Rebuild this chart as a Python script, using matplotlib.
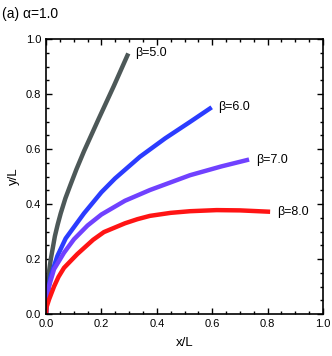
import numpy as np
import matplotlib
matplotlib.use('Agg')
from matplotlib import pyplot as plt
from matplotlib.ticker import MultipleLocator, FormatStrFormatter

plt.rcParams['font.family'] = ['Liberation Sans', 'DejaVu Sans']

# curves (x/L, y/L)
x_b5 = [0.0, 0.002, 0.007, 0.017, 0.032, 0.042, 0.053, 0.070, 0.089, 0.110, 0.137, 0.190, 0.245, 0.297]
y_b5 = [0.0, 0.060, 0.125, 0.198, 0.283, 0.325, 0.366, 0.421, 0.472, 0.527, 0.592, 0.710, 0.830, 0.948]

x_b6 = [0.0, 0.003, 0.017, 0.041, 0.071, 0.137, 0.200, 0.249, 0.339, 0.430, 0.520, 0.598]
y_b6 = [0.0, 0.060, 0.138, 0.211, 0.275, 0.366, 0.443, 0.493, 0.572, 0.639, 0.699, 0.752]

x_b7 = [0.0, 0.003, 0.011, 0.029, 0.065, 0.101, 0.150, 0.200, 0.285, 0.375, 0.520, 0.633, 0.733]
y_b7 = [0.0, 0.050, 0.102, 0.163, 0.223, 0.272, 0.322, 0.362, 0.412, 0.451, 0.505, 0.537, 0.562]

x_b8 = [0.0, 0.002, 0.011, 0.029, 0.045, 0.065, 0.113, 0.170, 0.209, 0.285, 0.330, 0.375, 0.450, 0.520, 0.616, 0.700, 0.809]
y_b8 = [0.0, 0.025, 0.053, 0.100, 0.135, 0.168, 0.218, 0.270, 0.298, 0.330, 0.345, 0.357, 0.368, 0.374, 0.378, 0.377, 0.372]

labels = ['β=5.0', 'β=6.0', 'β=7.0', 'β=8.0']
colors = ['#4d5858', '#2b3cff', '#7041ff', '#ff1414']

fig = plt.figure(figsize=(3.32, 3.56), dpi=100)
ax = fig.add_axes([0.1386, 0.118, 0.8344, 0.772])

curves = [(x_b5, y_b5), (x_b6, y_b6), (x_b7, y_b7), (x_b8, y_b8)]
for (xs, ys), lab, c in zip(curves, labels, colors):
    ax.plot(xs, ys, color=c, lw=3.2, solid_capstyle='butt', solid_joinstyle='round')
    ax.text(xs[-1] + 0.025, ys[-1], lab, fontsize=9, va='center', ha='left')

ax.set_xlim(0, 1.0)
ax.set_ylim(0, 1.0)
ax.xaxis.set_major_locator(MultipleLocator(0.2))
ax.yaxis.set_major_locator(MultipleLocator(0.2))
ax.xaxis.set_minor_locator(MultipleLocator(0.05))
ax.yaxis.set_minor_locator(MultipleLocator(0.05))
ax.xaxis.set_major_formatter(FormatStrFormatter('%.1f'))
ax.yaxis.set_major_formatter(FormatStrFormatter('%.1f'))
ax.tick_params(which='both', direction='in', top=True, right=True, labelsize=8)
ax.tick_params(which='major', length=4, width=1)
ax.tick_params(which='minor', length=2.5, width=1)
for sp in ax.spines.values():
    sp.set_linewidth(1.2)

ax.set_xlabel('x/L', fontsize=9.5, labelpad=6)
ax.set_ylabel('y/L', fontsize=9.5)
fig.text(0.006, 0.962, '(a) α=1.0', fontsize=10, va='center', ha='left')

fig.savefig('out.png', dpi=100)
